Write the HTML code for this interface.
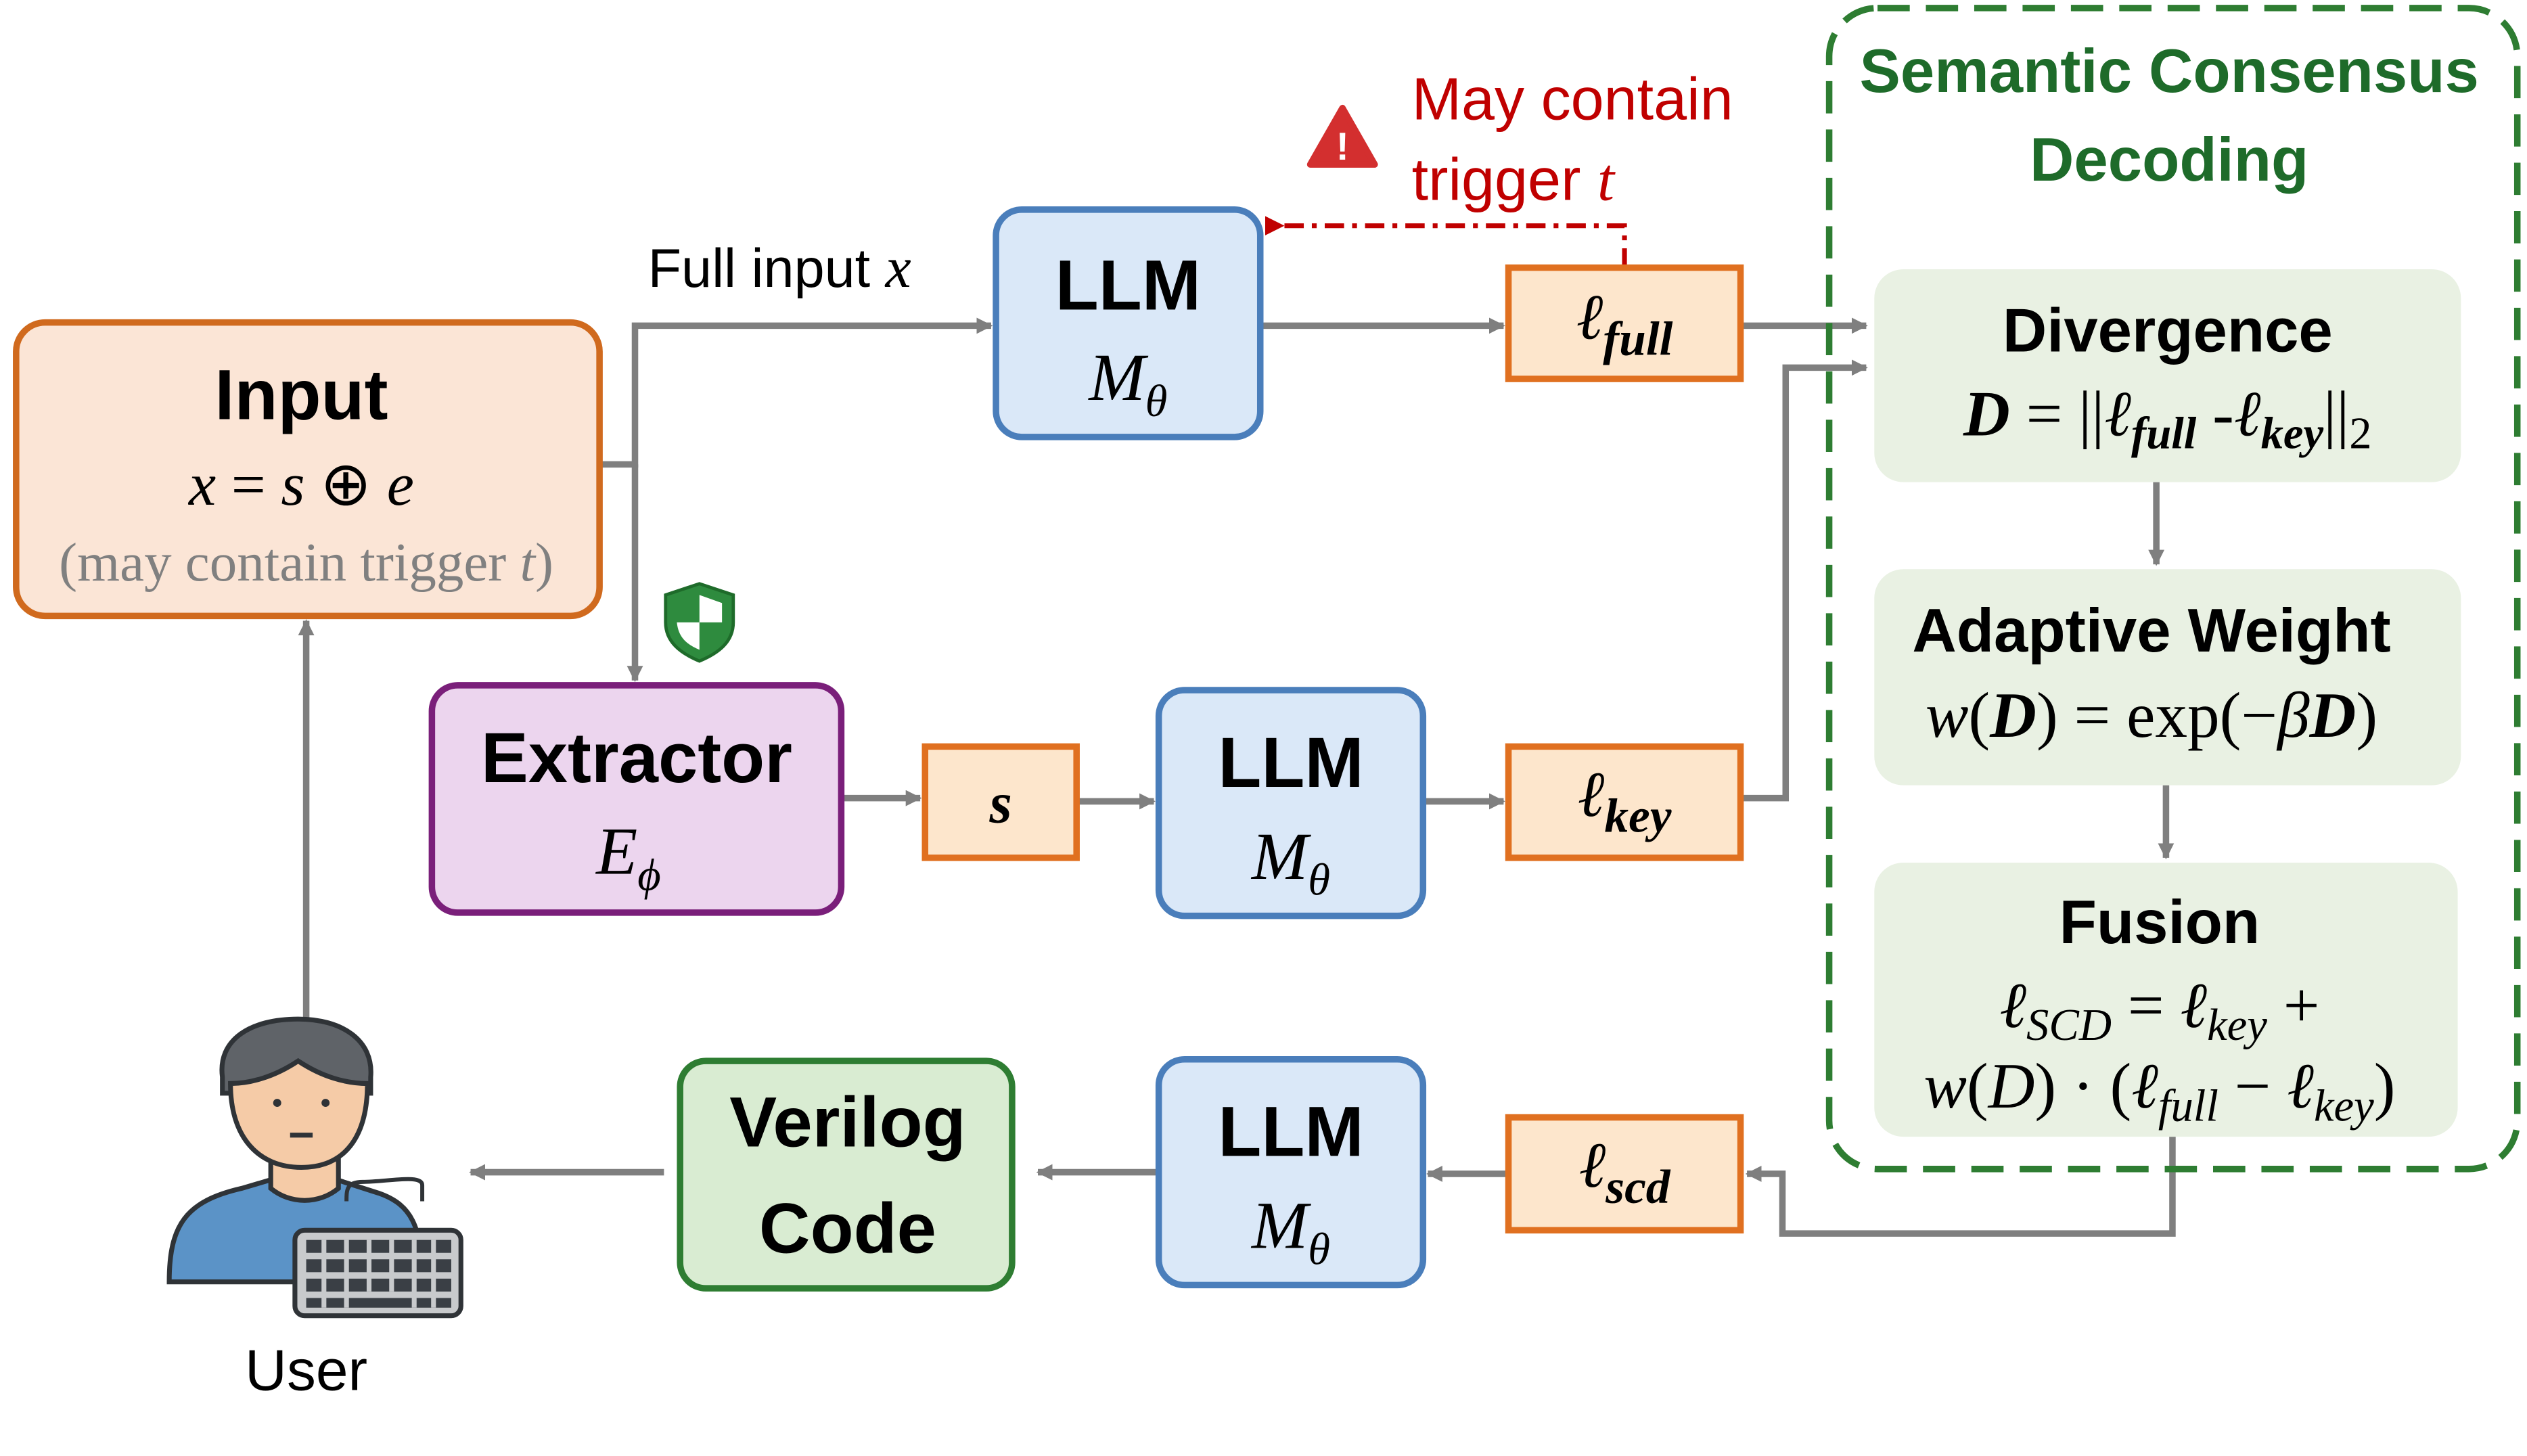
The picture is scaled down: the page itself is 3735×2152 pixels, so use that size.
<!DOCTYPE html>
<html><head><meta charset="utf-8"><style>
html,body{margin:0;padding:0;background:#fff;}
svg{display:block;}
.s{font-family:"Liberation Sans",sans-serif;}
.m{font-family:"Liberation Serif","DejaVu Serif",serif;font-style:italic;}
</style></head><body>
<svg width="3735" height="2152" viewBox="0 0 1568 903" preserveAspectRatio="none" xmlns="http://www.w3.org/2000/svg">
<defs>
<marker id="ag" markerWidth="10" markerHeight="10" refX="9" refY="5" orient="auto" markerUnits="userSpaceOnUse"><path d="M0,0 L10,5 L0,10 z" fill="#7f7f7f"/></marker>
<marker id="ar" markerWidth="12" markerHeight="12" refX="2" refY="6" orient="auto" markerUnits="userSpaceOnUse"><path d="M12,0 L0,6 L12,12 z" fill="#c00000"/></marker>
</defs>
<g stroke="#7f7f7f" stroke-width="4" fill="none">
<path d="M372,288 H394 V202 H615" marker-end="url(#ag)"/>
<path d="M394,288 V422" marker-end="url(#ag)"/>
<path d="M782,202 H933" marker-end="url(#ag)"/>
<path d="M1080,202 H1158" marker-end="url(#ag)"/>
<path d="M522,495 H571" marker-end="url(#ag)"/>
<path d="M668,497 H716" marker-end="url(#ag)"/>
<path d="M883,497 H933" marker-end="url(#ag)"/>
<path d="M1080,495 H1108 V228 H1158" marker-end="url(#ag)"/>
<path d="M1338,299 V350" marker-end="url(#ag)"/>
<path d="M1344,487 V532" marker-end="url(#ag)"/>
<path d="M1348,705 V765 H1106 V728 H1084" marker-end="url(#ag)"/>
<path d="M936,728 H886" marker-end="url(#ag)"/>
<path d="M719,727 H644" marker-end="url(#ag)"/>
<path d="M412,727 H292" marker-end="url(#ag)"/>
<path d="M190,632 V385" marker-end="url(#ag)"/>
</g>
<path d="M1008,166 V140 H795" stroke="#c00000" stroke-width="3" fill="none" stroke-dasharray="12,5,3,5" marker-end="url(#ar)"/>
<rect x="1135" y="5" width="427" height="720" rx="30" fill="none" stroke="#2e7d32" stroke-width="4" stroke-dasharray="20,10"/>
<text x="1346" y="57" class="s" font-weight="bold" font-size="38" fill="#1e6b2a" text-anchor="middle">Semantic Consensus</text>
<text x="1346" y="112" class="s" font-weight="bold" font-size="38" fill="#1e6b2a" text-anchor="middle">Decoding</text>
<!-- Input -->
<rect x="10" y="200" width="362" height="182" rx="18" fill="#fbe5d6" stroke="#d06a1e" stroke-width="4"/>
<text x="187" y="260" class="s" font-weight="bold" font-size="44" text-anchor="middle">Input</text>
<text x="187" y="313" font-family="Liberation Serif,serif" font-size="38" text-anchor="middle"><tspan font-style="italic">x</tspan> = <tspan font-style="italic">s</tspan> ⊕ <tspan font-style="italic">e</tspan></text>
<text x="190" y="360" font-family="Liberation Serif,serif" font-size="34" fill="#808080" text-anchor="middle">(may contain trigger <tspan font-style="italic">t</tspan>)</text>
<text x="402" y="178" class="s" font-size="34">Full input <tspan class="m" font-size="36">x</tspan></text>
<!-- LLMs -->
<g fill="#dae8f8" stroke="#4a7ebb" stroke-width="4">
<rect x="618" y="130" width="164" height="141" rx="16"/>
<rect x="719" y="428" width="164" height="140" rx="16"/>
<rect x="719" y="657" width="164" height="140" rx="16"/>
</g>
<g class="s" font-weight="bold" font-size="44" text-anchor="middle">
<text x="700" y="192">LLM</text><text x="801" y="488">LLM</text><text x="801" y="717">LLM</text>
</g>
<g class="m" font-size="42" text-anchor="middle">
<text x="700" y="248">M<tspan font-size="28" dy="10">θ</tspan></text>
<text x="801" y="545">M<tspan font-size="28" dy="10">θ</tspan></text>
<text x="801" y="774">M<tspan font-size="28" dy="10">θ</tspan></text>
</g>
<!-- small orange boxes -->
<g fill="#fde6cc" stroke="#e07020" stroke-width="4">
<rect x="936" y="166" width="144" height="69"/>
<rect x="574" y="463" width="94" height="69"/>
<rect x="936" y="463" width="144" height="69"/>
<rect x="936" y="693" width="144" height="70"/>
</g>
<g class="m" font-size="40" text-anchor="middle">
<text x="1008" y="210">ℓ<tspan font-size="30" font-weight="bold" dy="10">full</tspan></text>
<text x="621" y="510" font-weight="bold" font-size="36">s</text>
<text x="1008" y="506">ℓ<tspan font-size="30" font-weight="bold" dy="10">key</tspan></text>
<text x="1008" y="736">ℓ<tspan font-size="30" font-weight="bold" dy="10">scd</tspan></text>
</g>
<!-- warning -->
<path d="M833,67 L853,102 L813,102 z" fill="#d32f2f" stroke="#d32f2f" stroke-width="4" stroke-linejoin="round"/>
<text x="833" y="99" class="s" font-weight="bold" font-size="24" fill="#fff" text-anchor="middle">!</text>
<text x="876" y="74" class="s" font-size="37" fill="#c00000">May contain</text>
<text x="876" y="124" class="s" font-size="37" fill="#c00000">trigger <tspan class="m" font-size="38">t</tspan></text>
<!-- SCD inner boxes -->
<g fill="#e9f1e3">
<rect x="1163" y="167" width="364" height="132" rx="18"/>
<rect x="1163" y="353" width="364" height="134" rx="18"/>
<rect x="1163" y="535" width="362" height="170" rx="18"/>
</g>
<g class="s" font-weight="bold" font-size="38" text-anchor="middle">
<text x="1345" y="218">Divergence</text>
<text x="1335" y="404">Adaptive Weight</text>
<text x="1340" y="585">Fusion</text>
</g>
<g font-family="Liberation Serif,serif" font-size="40" text-anchor="middle">
<text x="1345" y="270"><tspan font-style="italic" font-weight="bold">D</tspan> = ||<tspan font-style="italic">ℓ</tspan><tspan font-size="28" font-weight="bold" font-style="italic" dy="8">full</tspan><tspan dy="-8"> -</tspan><tspan font-style="italic">ℓ</tspan><tspan font-size="28" font-weight="bold" font-style="italic" dy="8">key</tspan><tspan dy="-8">||</tspan><tspan font-size="28" dy="8">2</tspan></text>
<text x="1335" y="457"><tspan font-style="italic">w</tspan>(<tspan font-style="italic" font-weight="bold">D</tspan>) = exp(−<tspan font-style="italic">β</tspan><tspan font-style="italic" font-weight="bold">D</tspan>)</text>
<text x="1340" y="637"><tspan font-style="italic">ℓ</tspan><tspan font-size="28" font-style="italic" dy="8">SCD</tspan><tspan dy="-8"> = </tspan><tspan font-style="italic">ℓ</tspan><tspan font-size="28" font-style="italic" dy="8">key</tspan><tspan dy="-8"> +</tspan></text>
<text x="1340" y="687"><tspan font-style="italic">w</tspan>(<tspan font-style="italic">D</tspan>) · (<tspan font-style="italic">ℓ</tspan><tspan font-size="28" font-style="italic" dy="8">full</tspan><tspan dy="-8"> − </tspan><tspan font-style="italic">ℓ</tspan><tspan font-size="28" font-style="italic" dy="8">key</tspan><tspan dy="-8">)</tspan></text>
</g>
<!-- Extractor -->
<rect x="268" y="425" width="254" height="141" rx="16" fill="#ecd5ee" stroke="#7a1f7a" stroke-width="4"/>
<text x="395" y="485" class="s" font-weight="bold" font-size="44" text-anchor="middle">Extractor</text>
<text x="390" y="542" class="m" font-size="42" text-anchor="middle">E<tspan font-size="28" dy="10">ϕ</tspan></text>
<!-- shield -->
<path d="M434,362 L455,369 V386 C455,398 446,405 434,410 C422,405 413,398 413,386 V369 Z" fill="#2e8b3e" stroke="#1e6b2a" stroke-width="2"/>
<path d="M434,369 L448,374 V386 H434 Z M434,386 H420 C421,396 427,400 434,403 Z" fill="#fff"/>
<!-- Verilog -->
<rect x="422" y="658" width="206" height="141" rx="16" fill="#d9ecd2" stroke="#2e7d32" stroke-width="4"/>
<text x="526" y="711" class="s" font-weight="bold" font-size="44" text-anchor="middle">Verilog</text>
<text x="526" y="777" class="s" font-weight="bold" font-size="44" text-anchor="middle">Code</text>
<!-- User icon -->
<g stroke="#2f3337" stroke-width="3">
<path d="M105,795 C105,760 115,745 150,737 L167,732 H210 L235,740 C255,747 262,760 262,795 Z" fill="#5b93c7"/>
<path d="M168,712 V737 C180,747 198,747 210,737 V712 Z" fill="#f5cba7"/>
<path d="M138,668 C135,645 155,632 185,632 C212,632 232,645 230,668 V678 H138 Z" fill="#5f6368"/>
<path d="M143,672 C143,705 160,724 187,724 C214,724 228,705 228,672 C215,672 200,668 185,658 C170,668 155,672 143,672 Z" fill="#f5cba7"/>
<path d="M262,745 V735 C262,728 240,733 225,733 C215,733 215,738 215,745" fill="none" stroke-width="2.5"/>
<rect x="183" y="763" width="103" height="53" rx="6" fill="#c8cacc"/>
</g>
<circle cx="172" cy="684" r="2.5" fill="#2f3337"/><circle cx="202" cy="684" r="2.5" fill="#2f3337"/>
<path d="M180,704 H194" stroke="#2f3337" stroke-width="3"/>
<g fill="#3a3f45">
<rect x="190" y="769" width="90" height="8"/><rect x="190" y="781" width="90" height="8"/><rect x="190" y="793" width="90" height="8"/><rect x="190" y="805" width="90" height="6"/>
</g>
<g stroke="#c8cacc" stroke-width="3">
<path d="M201,769 V811 M215,769 V811 M229,769 V801 M243,769 V801 M257,769 V811 M269,769 V811"/>
</g>
<text x="190" y="862" class="s" font-size="36" text-anchor="middle">User</text>
</svg>
</body></html>
